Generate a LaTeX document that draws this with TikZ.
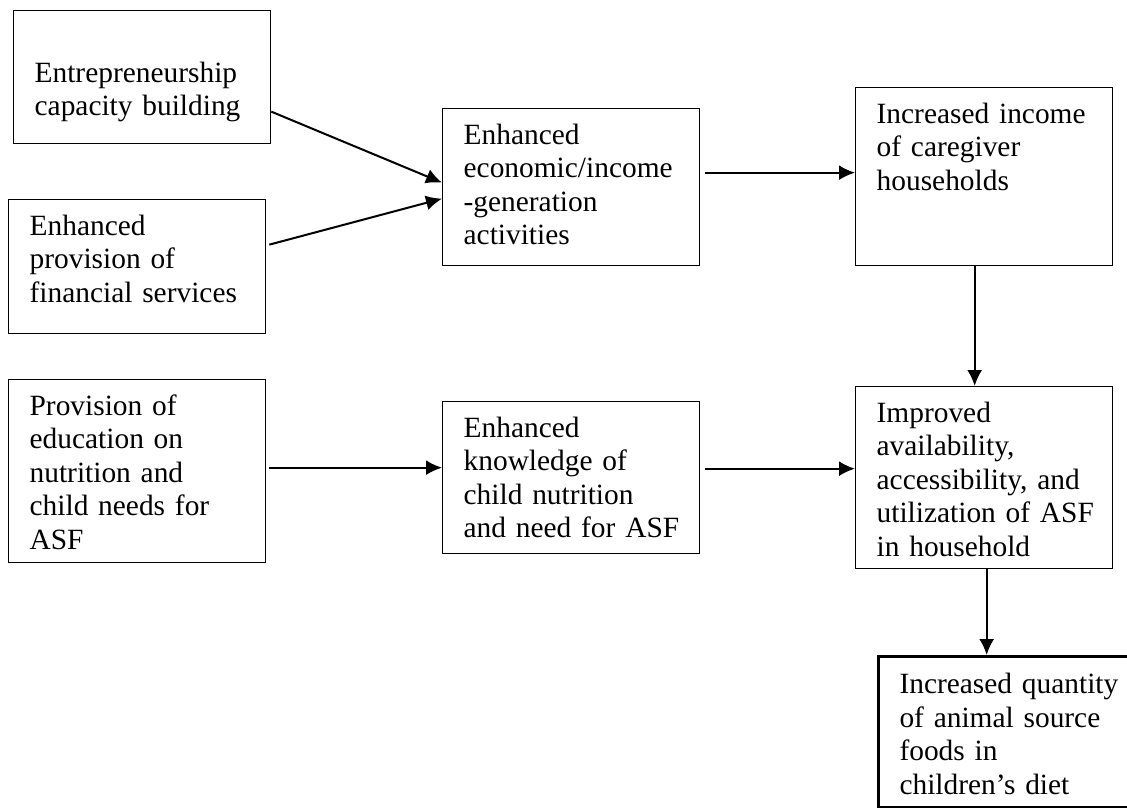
\documentclass[tikz,border=0pt]{standalone}
\usepackage{fontspec}
\setmainfont{Liberation Serif}
\usetikzlibrary{arrows.meta}
\begin{document}
\begin{tikzpicture}[x=0.5pt,y=-0.5pt,
	>={Latex[length=8pt,width=7.5pt]},
	every node/.style={font=\fontsize{14.7pt}{16.75pt}\selectfont},
	mybox/.style={draw,line width=0.65pt,anchor=north west,
		text width=107.5pt,inner xsep=10.5pt,inner ysep=0pt,text height=17.8pt,
		execute at begin node={\rightskip=0pt minus 12pt}},
	thickbox/.style={mybox,line width=1.5pt,text height=18.5pt,text width=130pt},
	myarrow/.style={->,line width=1pt}]
	
	\useasboundingbox (0,0) rectangle (1127,807);
	\clip (0,0) rectangle (1127,807);
	
	\node[mybox,text height=35.8pt,text depth=30.7pt] (ent) at (13,10) {Entrepreneurship\\capacity building};
	\node[mybox,text depth=49.2pt] (fin) at (8,199) {Enhanced\\provision of\\financial services};
	\node[mybox,text depth=73.7pt] (edu) at (8,379) {Provision of\\education on\\nutrition and\\child needs for\\ASF};
	\node[mybox,text depth=60.7pt] (econ) at (442,108) {Enhanced\\economic/income\\-generation\\activities};
	\node[mybox,text depth=58.2pt] (know) at (442,401) {Enhanced\\knowledge of\\child nutrition\\and need for ASF};
	\node[mybox,text depth=71.2pt] (inc) at (855,87) {Increased income\\of caregiver\\households};
	\node[mybox,text depth=73.2pt] (avail) at (855,386) {Improved\\availability,\\accessibility, and\\utilization of ASF\\in household};
	\node[thickbox,text depth=57pt] (asf) at (877,655) {Increased quantity\\of animal source\\foods in\\children's diet};
	
	\coordinate (h1) at ([xshift=2.5pt,yshift=7.25pt]econ.east);
	\coordinate (h2) at ([xshift=1.5pt,yshift=1.75pt]edu.east);
	\coordinate (h3) at ([xshift=2.5pt,yshift=4.5pt]know.east);
	\coordinate (v1) at ([xshift=-4.75pt]inc.south);
	\coordinate (v2) at ([xshift=1.25pt]avail.south);
	
	\draw[myarrow] ([yshift=-17.25pt]ent.east) -- ([yshift=2.25pt]econ.west);
	\draw[myarrow] ([xshift=1.5pt,yshift=11pt]fin.east) -- ([yshift=-5.75pt]econ.west);
	\draw[myarrow] (h1) -- (h1 -| inc.west);
	\draw[myarrow] (v1) -- (v1 |- avail.north);
	\draw[myarrow] (h2) -- (h2 -| know.west);
	\draw[myarrow] (h3) -- (h3 -| avail.west);
	\draw[myarrow] (v2) -- (v2 |- asf.north);
	
\end{tikzpicture}
\end{document}
